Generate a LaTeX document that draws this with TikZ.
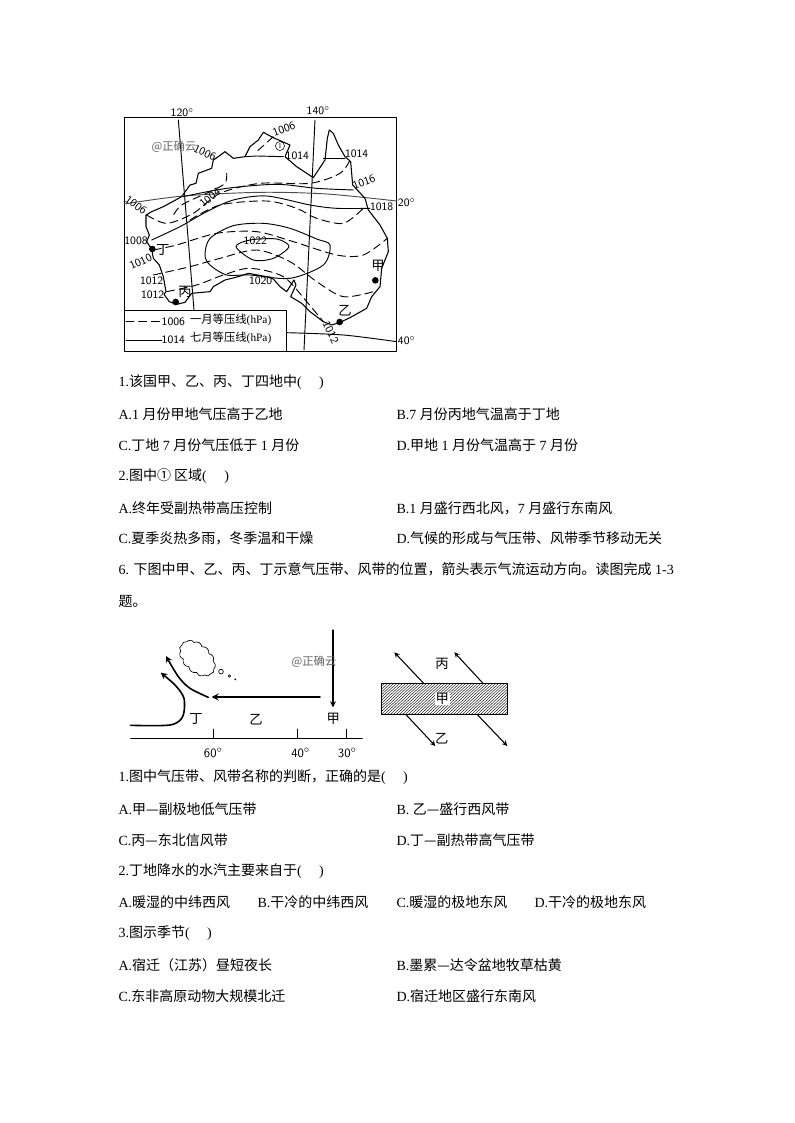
\documentclass[tikz,border=0pt]{standalone}
\usepackage{fontspec}
\setmainfont{Liberation Serif}
\newfontfamily\cjk{Noto Sans CJK SC}
\newcommand{\zh}[1]{{\cjk #1}}
\usetikzlibrary{shapes.symbols}
\tikzset{
    qtext/.style={anchor=west,inner sep=0pt,font=\fontsize{10.5}{12}\selectfont},
    maplab/.style={inner sep=0pt,font=\fontsize{8.5}{9}\selectfont\sffamily},
    place/.style={inner sep=0pt,font=\fontsize{10}{11}\selectfont\cjk},
    mark wm/.style={inner sep=0pt,text=black!60,font=\fontsize{8.5}{10}\selectfont\cjk},
    isojan/.style={dash pattern=on 6pt off 3.5pt,line width=0.7pt},
    isojul/.style={line width=0.7pt},
    site/.style={circle,fill=black,inner sep=0pt,minimum size=5pt}
}
\begin{document}
\begin{tikzpicture}[x=0.75pt,y=-0.75pt,line join=round,line cap=round,>=stealth,thick]
    \useasboundingbox (0,0) rectangle (794,1123);
    % map
    \begin{scope}[shift={(110,95)},scale=1/3]
        \draw[line width=0.6pt] (42,68) rectangle (860,768);
        \draw[line width=0.7pt] (205,75)--(252,645);
        \draw[line width=0.7pt] (615,75)--(582,765);
        \draw[isojul,black!70] plot[smooth] coordinates {(42,327) (220,303) (450,292) (650,297) (860,318)};
        \draw[isojul] plot[smooth] coordinates {(528,713) (700,720) (860,740)};
        % coast
        \draw[line width=0.8pt] (108,360)--(108,395)--(118,420)--(110,440)--(125,462)--(130,490)--(148,510)--(160,545)--(168,590)--(162,598)--(178,620)--(200,628)--(225,622)--(245,595)--(300,590)--(310,575)--(345,555)--(385,545)--(415,535)--(470,545)--(490,552)--(510,575)--(530,590)--(552,555)--(558,570)--(542,605)--(575,625)--(600,650)--(640,680)--(665,690)--(690,682)--(720,668)--(770,640)--(785,605)--(810,575)--(815,520)--(835,470)--(832,430)--(810,390)--(775,345)--(765,310)--(728,270)--(722,200)--(705,185)--(685,150)--(670,115)--(658,105)--(652,130)--(645,195)--(610,248)--(560,215)--(525,185)--(540,150)--(490,128)--(460,112)--(445,135)--(420,155)--(405,185)--(370,190)--(345,170)--(325,185)--(310,195)--(305,220)--(265,235)--(258,265)--(240,270)--(215,305)--(160,335)--(125,350)--cycle;
        % july
        \draw[isojul] (405,185)--(440,183)--(520,185);
        \draw[isojul] (640,190)--(705,190);
        \draw[isojul] plot[smooth] coordinates {(220,305) (350,280) (500,268) (620,280) (730,285)};
        \draw[isojul] plot[smooth] coordinates {(125,435) (210,395) (290,350) (370,315) (470,303) (600,330) (680,340) (780,340)};
        \draw[isojul] plot[smooth cycle] coordinates {(285,480) (300,430) (370,392) (460,385) (540,400) (620,432) (660,450) (640,510) (540,550) (420,540) (350,540) (300,510)};
        \draw[isojul] plot[smooth cycle] coordinates {(378,455) (420,435) (500,432) (537,455) (490,490) (430,495)};
        % january
        \draw[isojan] (490,125)--(440,170);
        \draw[isojan] plot[smooth] coordinates {(350,235) (345,265) (300,290) (215,330) (185,370)};
        \draw[isojan] plot[smooth] coordinates {(110,360) (170,385) (250,355) (330,295) (450,265) (600,265) (690,235) (720,195)};
        \draw[isojan] plot[smooth] coordinates {(240,375) (330,330) (470,318) (560,340) (620,370) (700,385) (760,340)};
        \draw[isojan] plot[smooth] coordinates {(130,465) (200,450) (320,415) (440,410) (550,440) (680,480) (760,480) (832,430)};
        \draw[isojan] plot[smooth] coordinates {(130,540) (240,515) (330,490) (440,465) (540,500) (620,560) (700,605) (790,590)};
        \draw[isojan] plot[smooth] coordinates {(170,590) (260,570) (340,540) (420,520) (520,545) (590,620) (640,680)};
        % legend
        \draw[line width=0.6pt,fill=white] (42,645) rectangle (528,768);
        \draw[isojan] (48,678)--(155,678);
        \draw[isojul] (48,735)--(155,735);
        \node[maplab] (legjan) at (190,680) {1006};
        \node[maplab] (legjul) at (190,735) {1014};
        \node[inner sep=0pt,font=\fontsize{8.5}{9}\selectfont] (legtxtjan) at (362,675) {\zh{一月等压线}(hPa)};
        \node[inner sep=0pt,font=\fontsize{8.5}{9}\selectfont] (legtxtjul) at (362,728) {\zh{七月等压线}(hPa)};
        % sites
        \node[site] (ding) at (127,462) {};
        \node[site] (bing) at (197,621) {};
        \node[site] (jia) at (796,556) {};
        \node[site] (yi) at (689,681) {};
        \node[place] (dinglab) at (158,466) {丁};
        \node[place] (binglab) at (225,590) {丙};
        \node[place] (jialab) at (804,514) {甲};
        \node[place] (yilab) at (705,648) {乙};
        \node[circle,draw,line width=0.4pt,inner sep=0.8pt,font=\fontsize{5.5}{5}\selectfont] (regionone) at (510,153) {1};
        % pressure labels
        \node[maplab,rotate=20] (pa) at (522,103) {1006};
        \node[maplab,rotate=-25] (pb) at (285,173) {1006};
        \node[maplab,rotate=-35] (pc) at (78,330) {1006};
        \node[maplab,rotate=40] (pd) at (300,308) {1004};
        \node[maplab] (pe) at (562,182) {1014};
        \node[maplab] (pf) at (740,175) {1014};
        \node[maplab,rotate=20] (pg) at (762,262) {1016};
        \node[maplab] (ph) at (815,336) {1018};
        \node[maplab] (pi) at (78,436) {1008};
        \node[maplab,rotate=25] (pj) at (92,500) {1010};
        \node[maplab] (pk) at (125,556) {1012};
        \node[maplab] (pl) at (128,598) {1012};
        \node[maplab] (pm) at (436,436) {1022};
        \node[maplab] (pn) at (452,558) {1020};
        \node[maplab,rotate=-65] (po) at (662,712) {1012};
        % degrees
        \node[maplab] (lona) at (217,52) {120$^{\circ}$};
        \node[maplab] (lonb) at (625,47) {140$^{\circ}$};
        \node[maplab] (lata) at (890,322) {20$^{\circ}$};
        \node[maplab] (latb) at (890,736) {40$^{\circ}$};
        \node[mark wm] (wma) at (192,155) {@正确云};
    \end{scope}
    % belts
    \begin{scope}[shift={(110,620)},scale=1/3]
        \draw[line width=0.6pt] (62,354)--(757,354);
        \foreach \x/\nx/\lx in {310/60/310,563/40/572,708/30/712}{
            \draw[line width=0.6pt] (\x,327)--(\x,354);
            \node[maplab,font=\fontsize{9.5}{10}\selectfont\sffamily] (lat\nx) at (\lx,398) {\nx$^{\circ}$};
        }
        \draw[->,line width=1pt] (669,30)--(669,262);
        \draw[->,line width=1.3pt] (630,231)--(305,231);
        \draw[->,line width=1.2pt] plot[smooth] coordinates {(295,232) (240,205) (205,170) (168,108)};
        \draw[->,line width=1.2pt] plot[smooth] coordinates {(62,316) (180,315) (218,290) (222,235) (195,195) (152,158)};
        \node[cloud,draw,line width=0.5pt,cloud puffs=13,cloud puff arc=110,aspect=1.6,minimum width=32pt,minimum height=21pt,inner sep=0pt,rotate=-45] (cloudb) at (262,115) {};
        \draw[line width=0.5pt] (333,155) circle (7);
        \draw[line width=0.5pt] (358,168) circle (4);
        \fill (376,178) circle (3);
        \node[place] (dingb) at (258,298) {丁};
        \node[place] (yib) at (438,300) {乙};
        \node[place] (jiab) at (670,298) {甲};
        \node[mark wm] (wmb) at (612,125) {@正确云};
        \begin{scope}
            \clip (814,191) rectangle (1192,284);
            \foreach \h in {0,9,...,480}
            \draw[line width=0.3pt] (814+\h-100,284)--(814+\h,191);
        \end{scope}
        \draw[line width=0.8pt] (814,191) rectangle (1192,284);
        \draw[->,line width=0.8pt] (942,191)--(853,97);
        \draw[->,line width=0.8pt] (1120,191)--(1033,97);
        \draw[->,line width=0.8pt] (888,284)--(976,378);
        \draw[->,line width=0.8pt] (1102,284)--(1192,378);
        \node[place] (bingr) at (996,132) {丙};
        \node[place,fill=white,inner sep=0.5pt] (jiar) at (997,237) {甲};
        \node[place] (yir) at (995,355) {乙};
    \end{scope}
    % questions
    \foreach \y/\lb in {
        382/{1.\zh{该国甲、乙、丙、丁四地中}(\quad\ )},
        414/{A.1 \zh{月份甲地气压高于乙地}},
        445/{C.\zh{丁地} 7 \zh{月份气压低于} 1 \zh{月份}},
        476/{2.\zh{图中①\ 区域}(\quad\ )},
        508/{A.\zh{终年受副热带高压控制}},
        538/{C.\zh{夏季炎热多雨，冬季温和干燥}},
        569/{6. \zh{下图中甲、乙、丙、丁示意气压带、风带的位置，箭头表示气流运动方向。读图完成} 1-3},
        601/{\zh{题。}},
        777/{1.\zh{图中气压带、风带名称的判断，正确的是}(\quad\ )},
        809/{A.\zh{甲—副极地低气压带}},
        840/{C.\zh{丙—东北信风带}},
        871/{2.\zh{丁地降水的水汽主要来自于}(\quad\ )},
        902/{A.\zh{暖湿的中纬西风}},
        933/{3.\zh{图示季节}(\quad\ )},
        965/{A.\zh{宿迁（江苏）昼短夜长}},
        996/{C.\zh{东非高原动物大规模北迁}}}
    \node[qtext] (ql\y) at (118,\y) {\lb};
    \foreach \y/\lb in {
        414/{B.7 \zh{月份丙地气温高于丁地}},
        445/{D.\zh{甲地} 1 \zh{月份气温高于} 7 \zh{月份}},
        508/{B.1 \zh{月盛行西北风，}7 \zh{月盛行东南风}},
        538/{D.\zh{气候的形成与气压带、风带季节移动无关}},
        809/{B. \zh{乙—盛行西风带}},
        840/{D.\zh{丁—副热带高气压带}},
        965/{B.\zh{墨累—达令盆地牧草枯黄}},
        996/{D.\zh{宿迁地区盛行东南风}}}
    \node[qtext] (qr\y) at (396,\y) {\lb};
    \node[qtext] (qb) at (257,902) {B.\zh{干冷的中纬西风}};
    \node[qtext] (qc) at (396,902) {C.\zh{暖湿的极地东风}};
    \node[qtext] (qd) at (534,902) {D.\zh{干冷的极地东风}};
\end{tikzpicture}
\end{document}
